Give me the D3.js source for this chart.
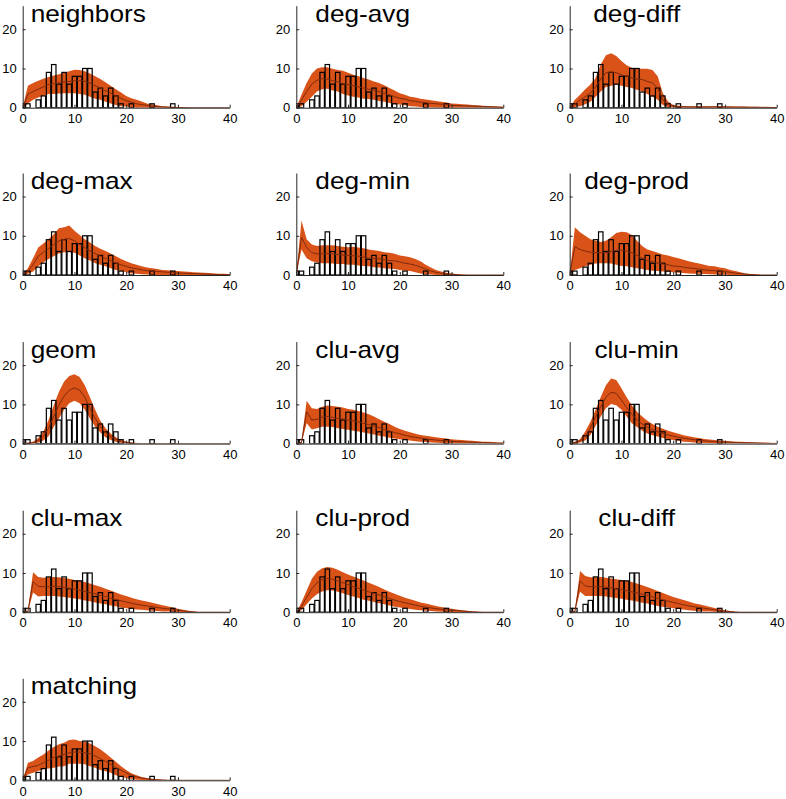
<!DOCTYPE html>
<html><head><meta charset="utf-8">
<script src="https://cdn.jsdelivr.net/npm/d3@7"></script>
<style>
body{margin:0;background:#fff}
svg{display:block}
text{font-family:"Liberation Sans",Arial,Helvetica,sans-serif;fill:#000}
</style>
</head><body>
<svg id="chart" width="786" height="799"></svg>
<script>
// ---------- DATA ----------
const binX = [0,1,2,3,4,5,6,7,8,9,10,11,12,13,14,15,16,17,18,19,20,21,22,23,24,25,26,27,28,29,30,31,32,33,34,35,36,37,38,39,40];
const observedCounts = [1,1,0,2,3,9,11,6,9,6,8,8,10,10,4,5,3,5,3,1,0,1,0,0,0,1,0,0,0,1,0,0,0,0,0,0,0,0,0,0,0];
const xTicks = [0,10,20,30,40];
const yTicks = [0,10,20];
const panelNames = ["neighbors","deg-avg","deg-diff","deg-max","deg-min","deg-prod","geom","clu-avg","clu-min","clu-max","clu-prod","clu-diff","matching"];

const neighborsHi   = [0,5.6,6.3,6.9,7.4,7.8,8.2,8.5,8.9,9.3,9.7,9.6,9.3,8.7,8.0,7.3,6.5,5.6,4.7,3.9,3.0,2.4,2.0,1.6,1.1,0.9,0.6,0.4,0.3,0.2,0.15,0.1,0.05,0,0,0,0,0,0,0,0];
const neighborsMean = [0,3.4,4.1,4.7,5.3,5.9,6.1,6.3,6.6,6.7,6.9,6.9,6.7,6.3,5.6,5.0,4.3,3.7,3.0,2.4,1.8,1.4,1.0,0.8,0.6,0.45,0.3,0.2,0.15,0.1,0.05,0.03,0.02,0,0,0,0,0,0,0,0];
const neighborsLo   = [0,1.1,2.0,2.6,3.0,3.5,3.5,3.6,3.7,3.7,3.7,3.5,3.3,2.8,2.3,2.0,1.5,1.1,0.7,0.4,0.3,0.1,0,0,0,0,0,0,0,0,0,0,0,0,0,0,0,0,0,0,0];

const degAvgHi   = [0,3.3,6.3,8.7,10.0,10.3,10.3,9.9,9.6,9.4,8.9,8.4,8.0,7.6,7.2,6.7,6.3,5.7,5.0,4.4,3.7,3.3,2.8,2.6,2.3,2.1,1.9,1.7,1.5,1.3,1.1,1.0,0.9,0.8,0.7,0.6,0.5,0.45,0.4,0.3,0.25];
const degAvgMean = [0,2.0,4.1,6.0,7.0,7.4,7.3,6.9,6.6,6.1,5.9,5.6,5.3,5.0,4.7,4.5,4.1,3.7,3.3,2.8,2.4,2.2,1.8,1.6,1.4,1.3,1.1,1.0,0.9,0.8,0.6,0.55,0.5,0.45,0.4,0.35,0.3,0.25,0.2,0.15,0.1];
const degAvgLo   = [0,0.4,1.5,2.8,4.1,4.7,4.8,4.4,4.1,3.5,3.1,2.8,2.6,2.3,2.2,2.0,1.7,1.5,1.2,0.9,0.8,0.6,0.4,0.3,0.2,0.1,0.05,0,0,0,0,0,0,0,0,0,0,0,0,0,0];

const degDiffHi   = [0,2.0,3.3,4.7,5.9,7.6,11.0,13.4,13.9,13.2,11.9,10.8,10.2,10.0,9.9,9.9,9.6,8.0,3.7,1.6,0.7,0.5,0.45,0.4,0.4,0.4,0.4,0.4,0.4,0.4,0.35,0.35,0.3,0.3,0.3,0.25,0.25,0.2,0.2,0.15,0.1];
const degDiffMean = [0,0.9,2.0,2.8,3.7,5.3,7.3,8.9,9.1,8.9,8.4,8.0,7.6,7.3,7.2,6.7,6.3,5.0,2.0,0.9,0.4,0.3,0.25,0.2,0.2,0.2,0.2,0.2,0.2,0.2,0.15,0.15,0.15,0.15,0.1,0.1,0.1,0.1,0.1,0.05,0.05];
const degDiffLo   = [0,0.2,0.4,0.9,1.5,2.8,4.1,5.3,5.6,5.9,5.6,5.3,5.0,4.6,4.1,3.5,2.8,2.0,0.7,0.2,0.05,0,0,0,0,0,0,0,0,0,0,0,0,0,0,0,0,0,0,0,0];

const degMaxHi   = [0,1.7,4.3,7.0,8.0,9.1,10.4,11.9,12.2,12.6,11.3,10.2,9.1,8.3,7.4,6.7,6.1,5.5,4.8,4.1,3.5,3.0,2.6,2.2,1.9,1.7,1.5,1.3,1.2,1.1,1.0,0.9,0.8,0.7,0.65,0.6,0.5,0.4,0.35,0.3,0.2];
const degMaxMean = [0,0.9,2.6,4.8,5.8,6.7,7.8,8.7,9.1,9.3,8.7,7.8,7.0,6.1,5.5,4.8,4.2,3.7,3.0,2.6,2.2,1.8,1.6,1.3,1.1,1.0,0.9,0.8,0.7,0.6,0.5,0.45,0.4,0.35,0.3,0.25,0.2,0.15,0.1,0.1,0.05];
const degMaxLo   = [0,0.3,0.9,2.2,3.2,4.1,4.8,5.5,5.8,5.8,5.7,5.0,4.3,3.7,3.0,2.6,2.2,1.7,1.3,1.0,0.7,0.4,0.3,0.2,0.1,0.05,0,0,0,0,0,0,0,0,0,0,0,0,0,0,0];

const degMinHi   = [0,13.9,9.1,7.8,7.4,7.6,7.6,7.6,7.4,7.2,7.1,7.2,7.0,6.8,6.5,6.3,6.1,5.8,5.7,5.4,5.0,4.8,4.5,4.1,3.5,2.6,1.9,1.3,0.9,0.6,0.4,0.2,0.05,0,0,0,0,0,0,0,0];
const degMinMean = [0,9.6,7.0,5.7,5.4,5.4,5.5,5.4,5.2,5.1,5.0,4.9,4.8,4.6,4.3,4.2,4.1,3.9,3.7,3.6,3.3,3.0,2.8,2.5,2.0,1.5,1.0,0.7,0.45,0.3,0.2,0.1,0.02,0,0,0,0,0,0,0,0];
const degMinLo   = [0,6.5,4.3,3.5,3.2,3.0,3.0,2.9,2.8,2.8,2.6,2.6,2.4,2.3,2.2,2.0,1.9,1.7,1.6,1.5,1.3,1.1,1.0,0.7,0.4,0.2,0.1,0,0,0,0,0,0,0,0,0,0,0,0,0,0];

const degProdHi   = [0,12.2,10.9,10.0,9.1,8.7,8.4,8.7,9.6,10.7,11.0,10.9,10.2,8.7,7.4,6.5,6.1,5.7,5.2,5.0,4.6,4.3,3.9,3.5,3.2,2.9,2.6,2.3,2.2,1.9,1.7,1.3,1.0,0.7,0.4,0.25,0.1,0,0,0,0];
const degProdMean = [0,7.2,6.5,6.1,5.8,5.7,5.7,5.7,6.0,6.3,6.3,6.1,5.7,5.0,4.3,3.7,3.4,3.0,2.8,2.6,2.3,2.2,2.0,1.8,1.7,1.5,1.3,1.2,1.1,1.0,0.9,0.7,0.5,0.35,0.2,0.1,0.05,0,0,0,0];
const degProdLo   = [0,1.3,1.7,2.2,2.6,2.9,3.0,3.0,2.9,2.6,2.3,2.2,2.0,1.7,1.5,1.3,1.1,1.0,0.9,0.8,0.7,0.6,0.5,0.4,0.35,0.3,0.25,0.2,0.15,0.1,0.05,0,0,0,0,0,0,0,0,0,0];

const geomHi   = [0,0.2,0.5,1.4,3.1,6.0,9.8,13.2,15.8,17.2,17.7,17.0,14.9,11.8,8.6,5.8,3.9,2.6,1.6,0.9,0.5,0.25,0.1,0,0,0,0,0,0,0,0,0,0,0,0,0,0,0,0,0,0];
const geomMean = [0,0.1,0.2,0.8,1.8,3.9,6.9,9.8,12.1,13.6,14.2,13.6,11.8,9.0,6.4,4.3,2.8,1.8,1.1,0.6,0.3,0.15,0.05,0,0,0,0,0,0,0,0,0,0,0,0,0,0,0,0,0,0];
const geomLo   = [0,0,0,0.25,0.8,1.9,4.3,6.4,8.6,10.3,10.9,10.3,8.6,6.4,4.3,2.8,1.6,0.9,0.5,0.2,0.05,0,0,0,0,0,0,0,0,0,0,0,0,0,0,0,0,0,0,0,0];

const cluAvgHi   = [0,0.5,10.9,9.0,8.8,9.4,9.7,9.6,9.4,9.2,8.8,8.6,8.3,7.9,7.5,6.9,6.2,5.6,5.0,4.3,3.7,3.3,2.9,2.5,2.2,2.0,1.8,1.6,1.4,1.3,1.1,1.0,0.9,0.8,0.7,0.6,0.5,0.45,0.4,0.3,0.25];
const cluAvgMean = [0,0.3,8.1,6.0,6.2,6.7,6.9,6.7,6.4,6.3,6.0,5.8,5.5,5.2,4.8,4.5,4.1,3.6,3.2,2.8,2.5,2.1,1.8,1.6,1.4,1.2,1.05,0.9,0.8,0.7,0.6,0.5,0.45,0.4,0.35,0.3,0.25,0.2,0.15,0.1,0.1];
const cluAvgLo   = [0,0,5.2,3.6,3.9,4.3,4.3,4.2,3.9,3.7,3.5,3.3,3.1,2.8,2.6,2.3,2.0,1.8,1.5,1.3,1.1,0.9,0.8,0.6,0.5,0.4,0.3,0.2,0.15,0.1,0.05,0,0,0,0,0,0,0,0,0,0];

const cluMinHi   = [0,0.5,1.1,3.1,5.6,8.6,11.9,14.9,16.6,16.2,14.1,11.8,9.8,8.1,6.9,5.8,5.0,4.3,3.8,3.3,2.9,2.5,2.1,1.9,1.6,1.4,1.2,1.05,0.9,0.8,0.7,0.6,0.5,0.45,0.4,0.35,0.3,0.25,0.2,0.15,0.1];
const cluMinMean = [0,0.3,0.7,1.9,3.9,6.9,9.4,11.8,13.1,12.8,11.1,9.2,7.5,6.0,5.0,4.2,3.5,3.0,2.6,2.2,1.9,1.6,1.4,1.2,1.0,0.85,0.7,0.6,0.5,0.45,0.4,0.35,0.3,0.25,0.2,0.2,0.15,0.1,0.1,0.05,0.05];
const cluMinLo   = [0,0,0.25,0.8,2.2,4.5,6.9,9.0,10.1,9.8,8.6,6.9,5.2,4.2,3.3,2.6,2.1,1.8,1.4,1.1,0.9,0.7,0.5,0.4,0.3,0.2,0.15,0.1,0.05,0,0,0,0,0,0,0,0,0,0,0,0];

const cluMaxHi   = [0,0.3,10.2,9.0,8.8,8.9,9.0,8.9,8.7,8.5,8.2,8.0,7.7,7.3,6.9,6.5,6.0,5.5,5.0,4.5,4.1,3.7,3.3,3.0,2.7,2.4,2.1,1.8,1.5,1.2,0.9,0.6,0.35,0.15,0,0,0,0,0,0,0];
const cluMaxMean = [0,0.2,7.8,6.6,6.5,6.5,6.6,6.5,6.3,6.1,5.9,5.6,5.3,5.0,4.7,4.3,4.0,3.6,3.2,2.9,2.6,2.3,2.0,1.8,1.6,1.4,1.2,1.0,0.85,0.7,0.5,0.35,0.2,0.08,0,0,0,0,0,0,0];
const cluMaxLo   = [0,0,5.0,4.0,4.1,4.1,4.1,4.0,3.9,3.7,3.5,3.3,3.0,2.8,2.5,2.2,2.0,1.7,1.5,1.2,1.0,0.9,0.7,0.6,0.5,0.4,0.3,0.2,0.15,0.1,0.05,0,0,0,0,0,0,0,0,0,0];

const cluProdHi   = [0,2.5,5.5,8.5,10.3,11.2,11.5,11.3,10.8,10.2,9.6,9.1,8.6,8.1,7.5,7.0,6.4,5.8,5.2,4.7,4.2,3.7,3.3,2.9,2.5,2.2,1.9,1.6,1.3,1.1,0.9,0.7,0.5,0.35,0.2,0.1,0,0,0,0,0];
const cluProdMean = [0,1.5,3.8,6.0,7.5,8.3,8.6,8.4,8.0,7.5,7.0,6.5,6.1,5.7,5.2,4.8,4.4,4.0,3.5,3.1,2.7,2.4,2.1,1.8,1.5,1.3,1.1,0.9,0.75,0.6,0.5,0.4,0.3,0.2,0.1,0.05,0,0,0,0,0];
const cluProdLo   = [0,0.5,2.0,3.5,4.6,5.3,5.6,5.5,5.2,4.8,4.4,4.0,3.6,3.2,2.9,2.6,2.3,2.0,1.7,1.4,1.2,1.0,0.8,0.6,0.5,0.4,0.3,0.2,0.1,0.05,0,0,0,0,0,0,0,0,0,0,0];

const cluDiffHi   = [0,0.3,10.5,9.2,8.9,8.9,9.0,8.8,8.6,8.4,8.2,8.0,7.7,7.3,6.9,6.4,5.9,5.4,4.9,4.4,3.9,3.5,3.1,2.7,2.3,2.0,1.7,1.4,1.1,0.8,0.5,0.3,0.1,0,0,0,0,0,0,0,0];
const cluDiffMean = [0,0.2,8.0,6.7,6.5,6.5,6.5,6.4,6.2,6.0,5.8,5.5,5.2,4.9,4.6,4.2,3.9,3.5,3.1,2.8,2.5,2.2,1.9,1.6,1.4,1.2,1.0,0.8,0.6,0.45,0.3,0.15,0.05,0,0,0,0,0,0,0,0];
const cluDiffLo   = [0,0,5.2,4.1,4.1,4.1,4.1,4.0,3.8,3.6,3.4,3.2,3.0,2.7,2.4,2.2,1.9,1.6,1.4,1.2,1.0,0.8,0.7,0.5,0.4,0.3,0.2,0.15,0.1,0.05,0,0,0,0,0,0,0,0,0,0,0];

const matchingHi   = [0,4.5,4.9,5.8,6.6,7.6,8.5,9.2,9.6,10.3,10.4,10.0,9.8,9.4,8.7,7.9,6.9,5.8,4.7,3.6,2.6,1.8,1.3,0.85,0.6,0.4,0.25,0.15,0.05,0,0,0,0,0,0,0,0,0,0,0,0];
const matchingMean = [0,3.2,3.5,3.8,4.5,5.1,5.8,6.2,6.6,7.0,7.2,7.2,7.0,6.8,6.2,5.5,4.8,4.1,3.2,2.6,1.9,1.3,0.9,0.55,0.35,0.2,0.12,0.07,0.02,0,0,0,0,0,0,0,0,0,0,0,0];
const matchingLo   = [0,1.5,1.9,2.4,2.8,3.0,3.2,3.5,3.6,4.2,4.2,4.2,4.1,3.6,3.2,2.6,2.3,1.9,1.3,0.9,0.6,0.3,0.15,0.05,0,0,0,0,0,0,0,0,0,0,0,0,0,0,0,0,0];

const panelMeans = [neighborsMean,degAvgMean,degDiffMean,degMaxMean,degMinMean,degProdMean,geomMean,cluAvgMean,cluMinMean,cluMaxMean,cluProdMean,cluDiffMean,matchingMean];
const panelLows  = [neighborsLo,degAvgLo,degDiffLo,degMaxLo,degMinLo,degProdLo,geomLo,cluAvgLo,cluMinLo,cluMaxLo,cluProdLo,cluDiffLo,matchingLo];
const panelHighs = [neighborsHi,degAvgHi,degDiffHi,degMaxHi,degMinHi,degProdHi,geomHi,cluAvgHi,cluMinHi,cluMaxHi,cluProdHi,cluDiffHi,matchingHi];

// ---------- LAYOUT ----------
const colLeft = [22.7, 296.3, 569.7];
const rowBase = [107.7, 275.0, 443.6, 612.2, 780.3];
const plotW = 207, plotH = 102;
const yMax = 26;
const bandColor = "#D95319", meanColor = "#7E2A0C";

const svg = d3.select("#chart");
const x = d3.scaleLinear().domain([0, 40]).range([0, plotW]);
const y = d3.scaleLinear().domain([0, yMax]).range([plotH, 0]);
const barW = x(0.86) - x(0);

panelNames.forEach((name, i) => {
  const col = i % 3, row = Math.floor(i / 3);
  const g = svg.append("g").attr("transform", `translate(${colLeft[col]},${rowBase[row] - plotH})`);
  const clipId = "clip" + i;
  g.append("clipPath").attr("id", clipId).append("rect")
    .attr("x", 0).attr("y", -2).attr("width", plotW + 2).attr("height", plotH + 2);

  const rows = binX.map((bx, j) => ({
    x: bx, c: observedCounts[j],
    m: panelMeans[i][j] ?? 0, lo: panelLows[i][j] ?? 0, hi: panelHighs[i][j] ?? 0
  }));
  const bars = rows.filter(d => d.c > 0);
  const plot = g.append("g").attr("clip-path", `url(#${clipId})`);

  plot.append("g").selectAll("rect").data(bars).join("rect")
    .attr("x", d => x(d.x) - barW / 2).attr("y", d => y(d.c))
    .attr("width", barW).attr("height", d => y(0) - y(d.c))
    .attr("fill", "#fff");

  plot.append("path").datum(rows)
    .attr("d", d3.area().x(d => x(d.x)).y0(d => y(d.lo)).y1(d => y(d.hi)))
    .attr("fill", bandColor);

  plot.append("g").selectAll("rect").data(bars).join("rect")
    .attr("x", d => x(d.x) - barW / 2).attr("y", d => y(d.c))
    .attr("width", barW).attr("height", d => y(0) - y(d.c))
    .attr("fill", "none").attr("stroke", "#000").attr("stroke-width", 1.2);

  plot.append("path").datum(rows)
    .attr("d", d3.line().x(d => x(d.x)).y(d => y(d.m)))
    .attr("fill", "none").attr("stroke", meanColor).attr("stroke-width", 1);

  const ya = g.append("g").call(d3.axisLeft(y).tickValues(yTicks).tickSizeInner(-3).tickSizeOuter(0).tickPadding(6));
  const xa = g.append("g").attr("transform", `translate(0,${plotH})`)
    .call(d3.axisBottom(x).tickValues(xTicks).tickSizeInner(-3).tickSizeOuter(0).tickPadding(6));
  [ya, xa].forEach(a => {
    a.select(".domain").attr("stroke", "#262626").attr("stroke-width", 1);
    a.selectAll(".tick line").attr("stroke", "#262626");
    a.selectAll("text").attr("font-size", 13).attr("font-family", '"Liberation Sans",Arial,sans-serif').attr("fill", "#000");
  });

  // title
  const tx = col === 0 ? 8 : (col === 1 ? 19 : 67);
  const anchor = col === 2 ? "middle" : "start";
  g.append("text")
    .attr("transform", `translate(${tx},16) scale(1.14,1)`)
    .attr("text-anchor", anchor)
    .attr("font-size", 23)
    .text(name);
});
</script>
</body></html>
